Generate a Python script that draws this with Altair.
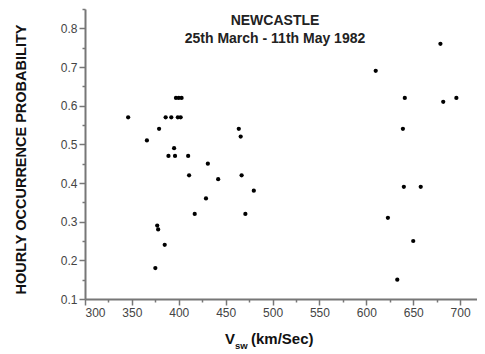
import altair as alt
import pandas as pd

# Data
vsw = [346, 366, 379, 386, 392, 399, 402, 397, 400, 403, 395, 389, 396, 410, 431,
       464, 466, 411, 442, 467, 480, 429, 417, 471, 377, 378, 385, 375, 679, 610,
       641, 682, 696, 639, 640, 658, 623, 650, 633]
prob = [0.57, 0.51, 0.54, 0.57, 0.57, 0.57, 0.57, 0.62, 0.62, 0.62, 0.49, 0.47, 0.47, 0.47, 0.45,
        0.54, 0.52, 0.42, 0.41, 0.42, 0.38, 0.36, 0.32, 0.32, 0.29, 0.28, 0.24, 0.18, 0.76, 0.69,
        0.62, 0.61, 0.62, 0.54, 0.39, 0.39, 0.31, 0.25, 0.15]
x_ticks = list(range(300, 725, 25))
y_ticks = [round(0.1 + 0.05 * i, 2) for i in range(16)]
title_lines = ["NEWCASTLE", "25th March - 11th May 1982"]
y_title = "HOURLY OCCURRENCE PROBABILITY"

df = pd.DataFrame({"vsw": vsw, "prob": prob})
FONT = "Liberation Sans"
AX = "#777777"
Y_MAJOR = "abs(datum.value*10 - round(datum.value*10)) < 0.01"

points = alt.Chart(df).mark_circle(size=18, color="black", opacity=1).encode(
    x=alt.X("vsw:Q",
            scale=alt.Scale(domain=[300, 718], nice=False, zero=False),
            axis=alt.Axis(values=x_ticks, title=None,
                          labelExpr="datum.value % 50 === 0 ? datum.label : ''",
                          tickSize={"condition": {"test": "datum.value % 50 === 0", "value": 6}, "value": 3},
                          labelPadding=2, grid=False)),
    y=alt.Y("prob:Q",
            scale=alt.Scale(domain=[0.1, 0.85], nice=False, zero=False),
            axis=alt.Axis(values=y_ticks, title=y_title, format=".1f",
                          labelExpr=Y_MAJOR + " ? datum.label : ''",
                          tickSize={"condition": {"test": Y_MAJOR, "value": 6}, "value": 3},
                          labelPadding=2, titlePadding=32, grid=False, titleY=150,
                          titleFontSize=14.5, titleFontWeight="bold", titleColor="#111")),
)

one = pd.DataFrame({"a": [0]})
xt_v = alt.Chart(one).mark_text(align="left", baseline="alphabetic", font=FONT, fontWeight="bold",
                                fontSize=15, color="#111").encode(
    x=alt.value(140), y=alt.value(335), text=alt.value("V"))
xt_sub = alt.Chart(one).mark_text(align="left", baseline="alphabetic", font=FONT, fontWeight="bold",
                                  fontSize=9.5, color="#111").encode(
    x=alt.value(150), y=alt.value(340), text=alt.value("sw"))
xt_rest = alt.Chart(one).mark_text(align="left", baseline="alphabetic", font=FONT, fontWeight="bold",
                                   fontSize=15, color="#111").encode(
    x=alt.value(166), y=alt.value(335), text=alt.value("(km/Sec)"))

chart = alt.layer(points, xt_v, xt_sub, xt_rest).properties(
    width=392, height=290,
    padding={"left": 5, "top": 0, "right": 0, "bottom": 0},
    title=alt.TitleParams(text=title_lines, fontSize=14, fontWeight="bold", font=FONT,
                          anchor="middle", offset=-38, dx=-6, color="#222", lineHeight=18),
).configure_view(stroke=None).configure_axis(
    domainColor=AX, domainWidth=2, tickColor=AX, tickWidth=1.5,
    labelFont=FONT, labelFontSize=12, labelColor="#444", titleFont=FONT,
)

chart.save("out.html", embed_options={"renderer": "svg", "actions": False})
